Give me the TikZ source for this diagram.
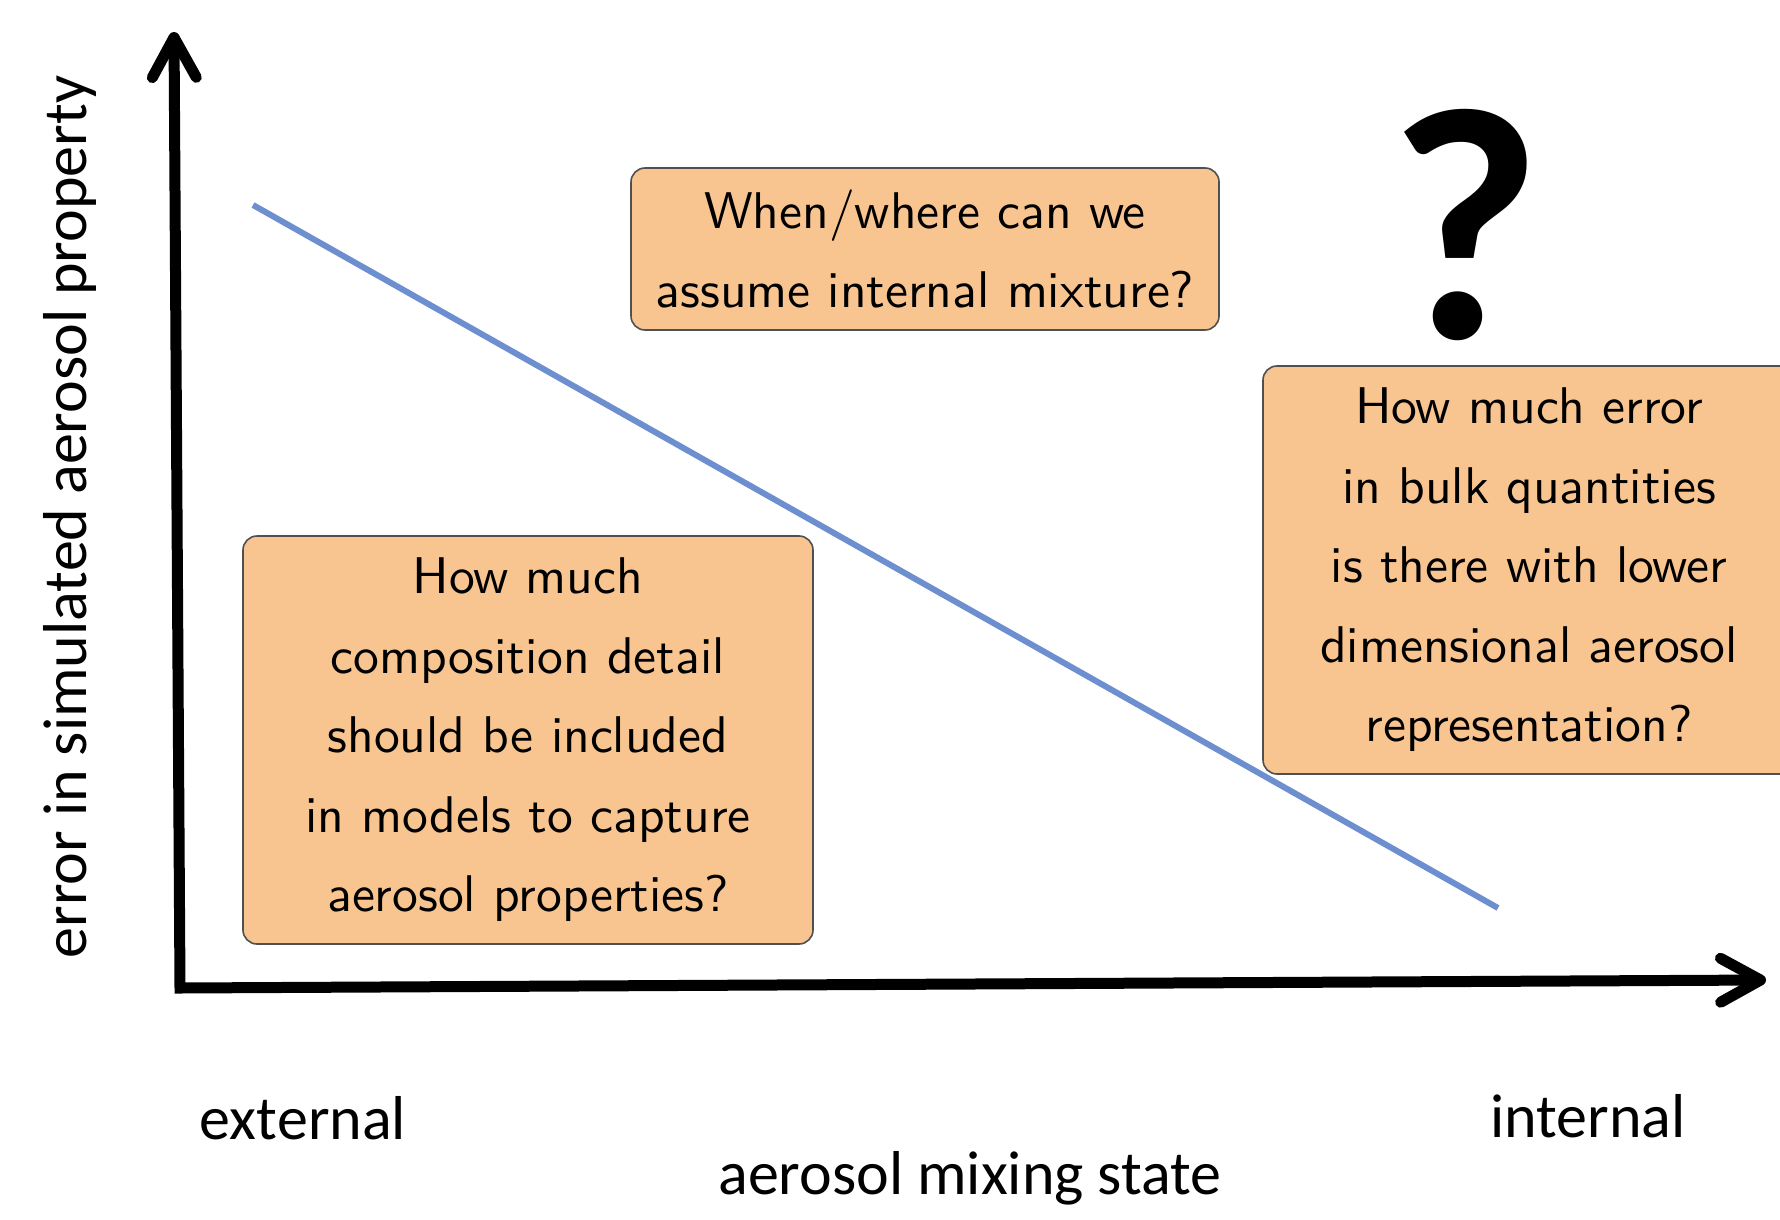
\documentclass[tikz,border=0pt]{standalone}
\usepackage{fontspec}
\setmainfont{Carlito}
\newfontfamily\boxfont{lmsans10-regular}[Extension=.otf]
\usetikzlibrary{arrows.meta}
\definecolor{boxfill}{HTML}{F8C590}
\definecolor{boxline}{HTML}{505050}
\definecolor{trend}{HTML}{6E8FCF}
\begin{document}
\begin{tikzpicture}[x=0.5pt,y=-0.5pt,
  qbox/.style={draw=boxline, line width=0.8pt, fill=boxfill, rounded corners=7pt,
    align=center, font=\boxfont\fontsize{25.8}{39.75}\selectfont, inner sep=0pt},
  axisline/.style={line width=5.5pt, line join=miter,
    {Straight Barb[length=20pt,width=22pt,round]}-{Straight Barb[length=20pt,width=22pt,round]}},
  lab/.style={font=\fontsize{31}{37}\selectfont, inner sep=0pt}]
\useasboundingbox (0,0) rectangle (1780,1219);
\clip (0,0) rectangle (1780,1219);
% axes
\coordinate (ytop) at (174,32);
\coordinate (origin) at (180,988);
\coordinate (xend) at (1766,980);
\draw[axisline] (ytop) -- (origin) -- (xend);
% trend line
\coordinate (tstart) at (253,205);
\coordinate (tend) at (1498,908);
\draw[trend, line width=3pt] (tstart) -- (tend);
% boxes
\node[qbox, minimum width=294pt, minimum height=81pt] (topq) at (925,249)
  {When/where can we\\assume internal mixture?};
\node[qbox, minimum width=285pt, minimum height=204pt] (leftq) at (528,740)
  {How much\\composition detail\\should be included\\in models to capture\\aerosol properties?};
\node[qbox, minimum width=266pt, minimum height=204pt] (rightq) at (1529,570)
  {How much error\\in bulk quantities\\is there with lower\\dimensional aerosol\\representation?};
% question mark
\node[font=\bfseries\fontsize{166}{166}\selectfont, inner sep=0pt] (qm) at (1465,225) {?};
% labels
\node[lab, rotate=90] (ylab) at (70,517) {error in simulated aerosol property};
\node[lab] (ext) at (303,1118) {external};
\node[lab] (int) at (1588,1116) {internal};
\node[lab] (xlab) at (970,1178) {aerosol mixing state};
\end{tikzpicture}
\end{document}
